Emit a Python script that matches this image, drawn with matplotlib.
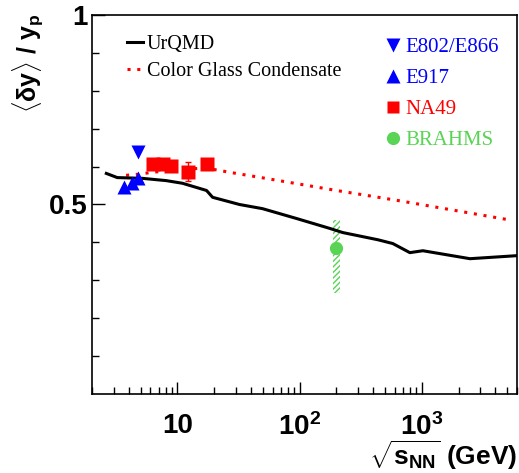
import matplotlib
matplotlib.use("Agg")
import matplotlib.pyplot as plt
from matplotlib.lines import Line2D
from matplotlib.ticker import FixedLocator, NullFormatter, LogLocator
import numpy as np

plt.rcParams['mathtext.fontset'] = 'custom'
plt.rcParams['mathtext.rm'] = 'Liberation Sans:bold'
plt.rcParams['mathtext.bf'] = 'Liberation Sans:bold'
plt.rcParams['mathtext.it'] = 'Liberation Sans:bold'
plt.rcParams['font.family'] = ['Liberation Sans', 'DejaVu Sans']

# ---- data ----
urqmd_x = [2.62, 3.22, 5.17, 8.1, 11.0, 17.3, 19.4, 32.2, 49.7, 94.4, 176, 225, 436, 578, 797, 1019, 2473, 6000]
urqmd_y = [0.582, 0.571, 0.569, 0.563, 0.556, 0.537, 0.519, 0.500, 0.489, 0.463, 0.437, 0.426, 0.407, 0.397, 0.373, 0.378, 0.357, 0.365]

cgc_x = [3.8, 4.8, 6.3, 8.8, 12.3, 17.3, 26.7, 62.4, 200, 624, 5070]
cgc_y = [0.577, 0.580, 0.585, 0.590, 0.594, 0.596, 0.585, 0.565, 0.537, 0.511, 0.460]

e802_x = [4.8]
e802_y = [0.638]

e917_x = [3.68, 4.27, 4.79]
e917_y = [0.545, 0.556, 0.571]

na49_x = [6.3, 7.6, 8.8, 12.3, 17.3]
na49_y = [0.608, 0.606, 0.601, 0.587, 0.608]
na49_err = [0.008, 0.008, 0.008, 0.024, 0.008]

brahms_x = [200]
brahms_y = [0.384]
brahms_lo = [0.267]
brahms_hi = [0.458]

xticks = [10, 100, 1000]
xticklabels = ['10', r'$10^2$', r'$10^3$']
yticks = [0.5, 1.0]
yticklabels = ['0.5', '1']

BLUE = '#0000ff'
RED = '#ff0000'
GREEN = '#59d454'

fig = plt.figure(figsize=(5.19, 4.73), dpi=100)
ax = fig.add_axes([92/519, 1-394/473, (517-92)/519, (394-15)/473])
ax.set_xscale('log')
ax.set_xlim(2, 6000)
ax.set_ylim(0, 1)

# UrQMD
ax.plot(urqmd_x, urqmd_y, color='black', lw=2.2, zorder=3)
# CGC
ax.plot(cgc_x, cgc_y, color=RED, lw=2.2, linestyle=(0, (1, 2.2)), zorder=2)

# BRAHMS band
for bx, lo, hi in zip(brahms_x, brahms_lo, brahms_hi):
    ax.fill_between([bx/1.07, bx*1.07], [lo, lo], [hi, hi], facecolor='none',
                    edgecolor=GREEN, hatch='//////', linewidth=0, zorder=2)
ax.plot(brahms_x, brahms_y, 'o', color=GREEN, ms=9.5, mec='none', zorder=5)

# NA49
ax.errorbar(na49_x, na49_y, yerr=na49_err, fmt='s', color=RED, ms=10, mec='none',
            elinewidth=1, capsize=2, capthick=1, zorder=5)
# E917
ax.plot(e917_x, e917_y, '^', color=BLUE, ms=10.5, mec='none', zorder=6)
# E802
ax.plot(e802_x, e802_y, 'v', color=BLUE, ms=10.5, mec='none', zorder=6)

# ticks
for s in ax.spines.values():
    s.set_linewidth(1.2)
ax.xaxis.set_major_locator(FixedLocator(xticks))
ax.set_xticklabels(xticklabels)
ax.xaxis.set_minor_locator(LogLocator(base=10, subs=np.arange(2, 10)))
ax.xaxis.set_minor_formatter(NullFormatter())
ax.yaxis.set_major_locator(FixedLocator(yticks))
ax.set_yticklabels(yticklabels)
ax.yaxis.set_minor_locator(FixedLocator([0.1, 0.2, 0.3, 0.4, 0.6, 0.7, 0.8, 0.9]))
ax.tick_params(which='both', direction='in', top=False, right=False, width=1)
ax.tick_params(which='major', length=9)
ax.tick_params(which='minor', length=5)
ax.tick_params(axis='x', which='major', pad=14, labelsize=20)
ax.tick_params(axis='y', which='major', pad=3, labelsize=20)
for lab in ax.get_xticklabels() + ax.get_yticklabels():
    lab.set_fontweight('bold')

# axis titles
fig.text(28/519, 1-14/473, r'$\langle\delta y\rangle$ / $y_{p}$', rotation=90,
         ha='center', va='top', fontsize=18, fontweight='bold')
fig.text(517/519, 1-465/473, r'$\sqrt{s_{NN}}$ (GeV)', ha='right', va='baseline',
         fontsize=19, fontweight='bold')

# legends
h1 = [Line2D([], [], color='black', lw=2.2),
      Line2D([], [], color=RED, lw=2.2, linestyle=(0, (1, 2.2)))]
leg1 = ax.legend(h1, ['UrQMD', 'Color Glass Condensate'], loc='upper left',
                 bbox_to_anchor=(0.039, 0.995), frameon=False, handlelength=0.8,
                 handletextpad=0.2, labelspacing=0.4,
                 prop={'family': 'Liberation Serif', 'size': 14.5})
ax.add_artist(leg1)

h2 = [Line2D([], [], marker='v', color=BLUE, ls='none', ms=10.5, mec='none'),
      Line2D([], [], marker='^', color=BLUE, ls='none', ms=10.5, mec='none'),
      Line2D([], [], marker='s', color=RED, ls='none', ms=9, mec='none'),
      Line2D([], [], marker='o', color=GREEN, ls='none', ms=9.5, mec='none')]
leg2 = ax.legend(h2, ['E802/E866', 'E917', 'NA49', 'BRAHMS'], loc='upper left',
                 bbox_to_anchor=(0.645, 0.99), frameon=False, handlelength=0.8,
                 handletextpad=0.2, labelspacing=0.55, labelcolor='markerfacecolor',
                 prop={'family': 'Liberation Serif', 'size': 15})

fig.savefig('out.png', dpi=100)
